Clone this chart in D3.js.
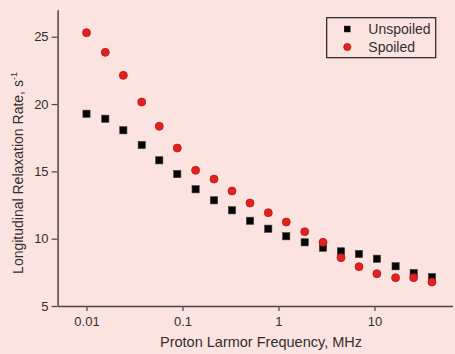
<!DOCTYPE html>
<html>
<head>
<meta charset="utf-8">
<script src="https://cdn.jsdelivr.net/npm/d3@7"></script>
<style>
  html, body { margin: 0; padding: 0; background: #fbe4e0; }
  svg { display: block; font-family: "Liberation Sans", Arial, sans-serif; }
</style>
</head>
<body>
<svg id="chart" width="455" height="354"></svg>
<script>
// frequencies in MHz (log axis)
const freq = [0.01, 0.0157, 0.0242, 0.0376, 0.0573, 0.0883, 0.137, 0.213, 0.328, 0.505,
              0.783, 1.205, 1.875, 2.91, 4.48, 6.9, 10.6, 16.6, 25.6, 39.7];
// relaxation rates, s^-1
const unspoiled = [19.28, 18.91, 18.05, 16.96, 15.82, 14.80, 13.67, 12.85, 12.11, 11.33,
                   10.74, 10.18, 9.73, 9.33, 9.06, 8.86, 8.51, 7.95, 7.45, 7.15];
const spoiled = [25.30, 23.84, 22.13, 20.15, 18.35, 16.73, 15.08, 14.43, 13.54, 12.65,
                 11.93, 11.24, 10.52, 9.73, 8.59, 7.92, 7.40, 7.10, 7.10, 6.78];
const xMajor = [0.01, 0.1, 1, 10];
const yMajor = [5, 10, 15, 20, 25];
const yMinor = [7.5, 12.5, 17.5, 22.5];

const axisColor = "#4d4646";
const textColor = "#332e2e";

const svg = d3.select("#chart");

const x = d3.scaleLog().domain([0.005, 65]).range([57.6, 452.5]);
const y = d3.scaleLinear().domain([5, 27]).range([306, 9.8]);

// minor x ticks: 2..9 in each decade
const xMinor = x.ticks().filter(v => !xMajor.some(m => Math.abs(m - v) < 1e-9));

// x axis
const gx = svg.append("g").attr("transform", "translate(0,306)");
gx.call(d3.axisBottom(x).tickValues(xMinor).tickSize(3).tickFormat("").tickSizeOuter(0));
gx.call(d3.axisBottom(x).tickValues(xMajor).tickSize(5).tickSizeOuter(0).tickPadding(5)
  .tickFormat(d => d >= 1 ? d3.format("d")(d) : String(d)));

// y axis
const gy = svg.append("g").attr("transform", "translate(57.6,0)");
gy.call(d3.axisLeft(y).tickValues(yMinor).tickSize(3).tickFormat("").tickSizeOuter(0));
gy.call(d3.axisLeft(y).tickValues(yMajor).tickSize(6).tickSizeOuter(0).tickPadding(3));

svg.selectAll(".domain").attr("stroke", axisColor).attr("stroke-width", 1.5);
svg.selectAll(".tick line").attr("stroke", axisColor).attr("stroke-width", 1.2);
svg.selectAll(".tick text").attr("fill", textColor).style("font-size", "13px");
gx.selectAll(".tick text").attr("dy", "0.8em");

// axis titles
svg.append("text")
  .attr("x", 261).attr("y", 347)
  .attr("text-anchor", "middle")
  .attr("fill", textColor)
  .style("font-size", "14.5px")
  .text("Proton Larmor Frequency, MHz");

const yl = svg.append("text")
  .attr("transform", "translate(23,173) rotate(-90)")
  .attr("text-anchor", "middle")
  .attr("fill", textColor)
  .style("font-size", "14px");
yl.append("tspan").text("Longitudinal Relaxation Rate, s");
yl.append("tspan").attr("dy", "-6").style("font-size", "9px").text("-1");

// data
svg.append("g").selectAll("rect")
  .data(freq.map((f, i) => [f, unspoiled[i]]))
  .enter().append("rect")
  .attr("x", d => x(d[0]) - 3.6)
  .attr("y", d => y(d[1]) - 3.6)
  .attr("width", 7.2).attr("height", 7.2)
  .attr("fill", "#050505").attr("stroke", "#3a3a3a").attr("stroke-width", 0.6);

svg.append("g").selectAll("circle")
  .data(freq.map((f, i) => [f, spoiled[i]]))
  .enter().append("circle")
  .attr("cx", d => x(d[0]))
  .attr("cy", d => y(d[1]))
  .attr("r", 4)
  .attr("fill", "#e2211f").attr("stroke", "#b3191a").attr("stroke-width", 0.8);

// legend
const lg = svg.append("g");
lg.append("rect")
  .attr("x", 326.7).attr("y", 17.7).attr("width", 109).attr("height", 40)
  .attr("fill", "none").attr("stroke", "#222").attr("stroke-width", 1.2);
lg.append("rect")
  .attr("x", 347.3 - 3.2).attr("y", 29 - 3.2).attr("width", 6.4).attr("height", 6.4)
  .attr("fill", "#050505");
lg.append("circle")
  .attr("cx", 347.3).attr("cy", 47).attr("r", 3.6)
  .attr("fill", "#e2211f").attr("stroke", "#b3191a").attr("stroke-width", 0.8);
lg.append("text").attr("x", 368.3).attr("y", 33.5).attr("fill", textColor)
  .style("font-size", "14px").text("Unspoiled");
lg.append("text").attr("x", 368.3).attr("y", 52).attr("fill", textColor)
  .style("font-size", "14px").text("Spoiled");
</script>
</body>
</html>
